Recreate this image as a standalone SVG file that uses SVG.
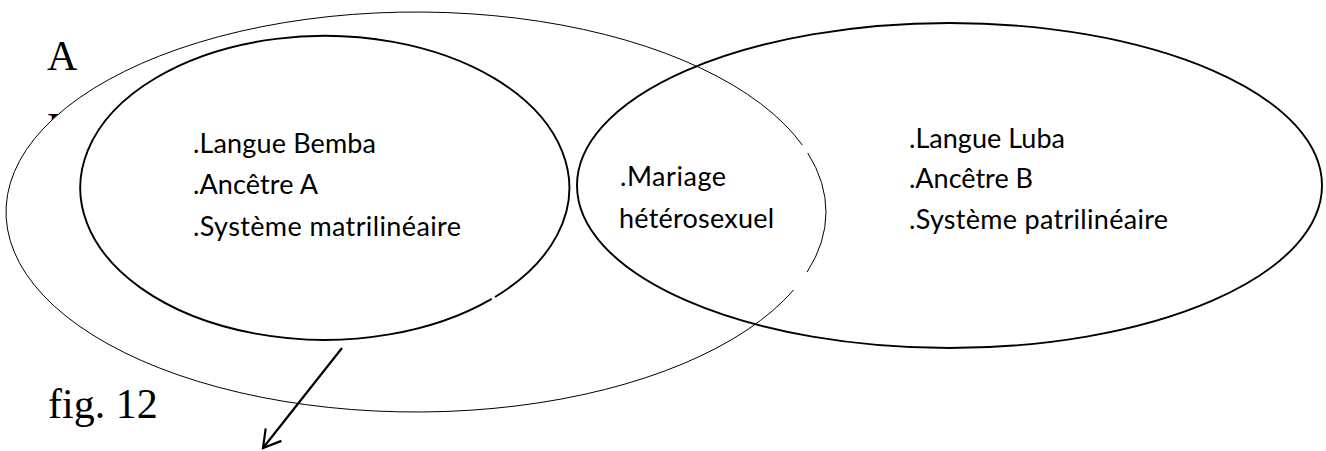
<svg xmlns="http://www.w3.org/2000/svg" width="1326" height="451" viewBox="0 0 1326 451">
  <defs>
    <style>
      .serif { font-family: "Liberation Serif", "Times New Roman", serif; font-size: 42px; fill: #000; }
      .label { font-family: Lato, "Open Sans", sans-serif; font-size: 27px; fill: #000; }
      .thin { fill: none; stroke: #000; stroke-width: 1; }
      .thick { fill: none; stroke: #000; stroke-width: 1.9; }
      .arrow { fill: none; stroke: #000; stroke-width: 2.2; }
    </style>
    <marker id="openHead" markerUnits="userSpaceOnUse" markerWidth="40" markerHeight="40" refX="0" refY="0" orient="auto" overflow="visible">
      <path d="M -17 -10 L 0 0 L -17 10" fill="none" stroke="#000" stroke-width="2.2"/>
    </marker>
  </defs>
  <rect width="1326" height="451" fill="#fff"/>

  <!-- heading letters at the left margin -->
  <text class="serif" x="47" y="70">A</text>
  <text class="serif" x="47" y="142">L</text>

  <!-- large enclosing ellipse (white interior, with two small breaks on its right side) -->
  <g id="outer-set">
    <ellipse cx="416" cy="212" rx="410" ry="200" fill="#fff" stroke="none"/>
    <path class="thin" d="M 807.75 153 A 410 200 0 0 1 807.12 272 M 793.54 290 A 410 200 0 1 1 802.31 145"/>
  </g>

  <!-- Bemba group -->
  <g id="bemba">
    <path class="thick" d="M 491.74 298.88 A 244.5 152 0 1 1 495.0 296.95"/>
    <text class="label" x="193" y="153" textLength="183">.Langue Bemba</text>
    <text class="label" x="193" y="194" textLength="125">.Ancêtre A</text>
    <text class="label" x="193" y="236" textLength="268">.Système matrilinéaire</text>
  </g>

  <!-- Luba group -->
  <g id="luba">
    <ellipse class="thick" cx="949.5" cy="185.5" rx="372.5" ry="162.5"/>
    <text class="label" x="909" y="148" textLength="156">.Langue Luba</text>
    <text class="label" x="909" y="188" textLength="124">.Ancêtre B</text>
    <text class="label" x="909" y="229" textLength="259">.Système patrilinéaire</text>
  </g>

  <!-- shared trait in the overlap -->
  <g id="shared">
    <text class="label" x="620" y="186" textLength="106">.Mariage</text>
    <text class="label" x="619" y="228" textLength="155">hétérosexuel</text>
  </g>

  <text class="serif" x="48" y="418">fig. 12</text>

  <g id="connectors">
    <path class="arrow" d="M 342 348 L 263 448" marker-end="url(#openHead)"/>
  </g>
</svg>
